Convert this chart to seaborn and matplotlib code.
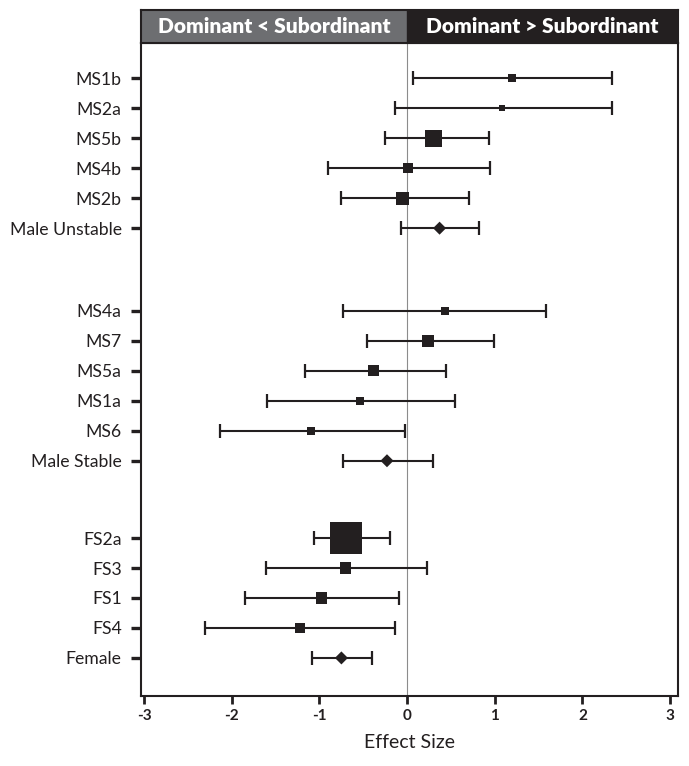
import numpy as np
import pandas as pd
import matplotlib
matplotlib.use("Agg")
import matplotlib.pyplot as plt
import seaborn as sns

# Study labels, grouped as in the figure (last row of each group is the pooled estimate)
labels = ['MS1b', 'MS2a', 'MS5b', 'MS4b', 'MS2b', 'Male Unstable',
          'MS4a', 'MS7', 'MS5a', 'MS1a', 'MS6', 'Male Stable',
          'FS2a', 'FS3', 'FS1', 'FS4', 'Female']
groups = ['Male Unstable'] * 6 + ['Male Stable'] * 6 + ['Female'] * 5
pooled = [False] * 5 + [True] + [False] * 5 + [True] + [False] * 4 + [True]

effect = [1.20, 1.08, 0.30, 0.01, -0.05, 0.37,
          0.43, 0.24, -0.38, -0.54, -1.10, -0.23,
          -0.70, -0.70, -0.98, -1.22, -0.75]
lower = [0.07, -0.14, -0.25, -0.90, -0.75, -0.07,
         -0.73, -0.46, -1.17, -1.60, -2.14, -0.73,
         -1.06, -1.61, -1.85, -2.31, -1.08]
upper = [2.34, 2.34, 0.93, 0.95, 0.71, 0.82,
         1.59, 0.99, 0.44, 0.55, -0.02, 0.29,
         -0.20, 0.23, -0.09, -0.14, -0.40]
# relative study weight (drives the square size); pooled rows have none
weight = [6.4, 3.6, 28.0, 10.0, 16.0, np.nan,
          6.4, 16.0, 12.0, 6.4, 6.4, np.nan,
          100.0, 13.0, 13.0, 11.0, np.nan]

header_left = 'Dominant < Subordinant'
header_right = 'Dominant > Subordinant'

df = pd.DataFrame({'label': labels, 'group': groups, 'pooled': pooled,
                   'effect': effect, 'lower': lower, 'upper': upper,
                   'weight': weight})

# vertical position: one unit per row, extra space between groups
group_gap = {'Male Unstable': 0.0, 'Male Stable': 1.76, 'Female': 3.34}
df['pos'] = np.arange(len(df)) + df['group'].map(group_gap)

sns.set_theme(style='ticks')
plt.rcParams['font.family'] = ['Lato', 'DejaVu Sans']

fig = plt.figure(figsize=(6.89, 7.66), dpi=100)
ax = fig.add_axes([0.2042, 0.0914, 0.7794, 0.8529])
xlim = (-3.04, 3.087)

# zero reference line
ax.axvline(0, color='#8c8c8c', lw=0.8, zorder=0)

# confidence intervals
ax.errorbar(df['effect'], df['pos'],
            xerr=[df['effect'] - df['lower'], df['upper'] - df['effect']],
            fmt='none', ecolor='#231f20', elinewidth=1.5,
            capsize=4.8, capthick=1.6, zorder=2)

# study squares, area proportional to weight
studies = df[~df['pooled']]
wmin, wmax = studies['weight'].min(), studies['weight'].max()
px2 = 0.72 ** 2 * 10
sns.scatterplot(data=studies, x='effect', y='pos', size='weight',
                sizes=(wmin * px2, wmax * px2), size_norm=(wmin, wmax),
                marker='s', color='#231f20', edgecolor='none',
                legend=False, ax=ax, zorder=3)

# pooled diamonds
sns.scatterplot(data=df[df['pooled']], x='effect', y='pos',
                marker='D', s=44, color='#231f20', edgecolor='none',
                legend=False, ax=ax, zorder=3)

ax.set_xlim(*xlim)
ax.set_ylim(df['pos'].max() + 1.27, df['pos'].min() - 1.19)
ax.set_yticks(df['pos'])
ax.set_yticklabels(df['label'], fontsize=12.7, color='#231f20')
ax.set_xticks(range(-3, 4))
ax.set_xticklabels([str(t) for t in range(-3, 4)], fontsize=11,
                   fontweight='bold', color='#231f20')
ax.tick_params(axis='y', length=7.2, width=2.4, pad=6.5, color='#231f20')
ax.tick_params(axis='x', length=5.5, width=2.0, pad=4, color='#231f20')
ax.set_xlabel('Effect Size', fontsize=14, color='#231f20', labelpad=8)
ax.set_ylabel('')
for side in ax.spines.values():
    side.set_visible(True)
    side.set_linewidth(1.5)
    side.set_color('#231f20')

# header boxes
hax = fig.add_axes([0.2042, 0.9443, 0.7794, 0.0427])
hax.set_xlim(*xlim)
hax.set_ylim(0, 1)
hax.axvspan(xlim[0], 0, color='#6d6e71')
hax.axvspan(0, xlim[1], color='#231f20')
hax.text((xlim[0]) / 2, 0.5, header_left, color='white', fontsize=15,
         fontweight='heavy', ha='center', va='center')
hax.text((xlim[1]) / 2, 0.5, header_right, color='white', fontsize=15,
         fontweight='heavy', ha='center', va='center')
hax.set_xticks([])
hax.set_yticks([])
for side in hax.spines.values():
    side.set_linewidth(1.5)
    side.set_color('#231f20')

fig.savefig('out.png', dpi=100)
